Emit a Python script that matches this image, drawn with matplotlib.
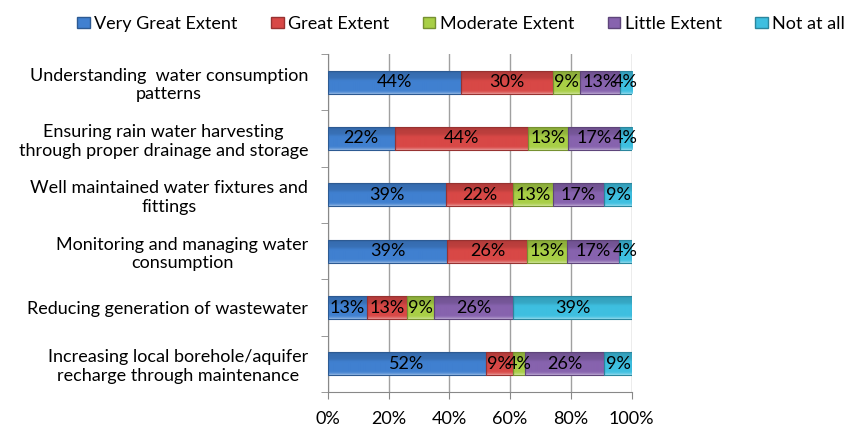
import numpy as np
import matplotlib.pyplot as plt
import matplotlib.colors as mcolors

# survey items, top to bottom
items = ['Understanding  water consumption\npatterns',
         'Ensuring rain water harvesting\nthrough proper drainage and storage',
         'Well maintained water fixtures and\nfittings',
         'Monitoring and managing water\nconsumption',
         'Reducing generation of wastewater',
         'Increasing local borehole/aquifer\nrecharge through maintenance']

levels = ['Very Great Extent', 'Great Extent', 'Moderate Extent', 'Little Extent', 'Not at all']

# percent of respondents per item
very_great = [44, 22, 39, 39, 13, 52]
great = [30, 44, 22, 26, 13, 9]
moderate = [9, 13, 13, 13, 9, 4]
little = [13, 17, 17, 17, 26, 26]
not_at_all = [4, 4, 9, 4, 39, 9]

xticks = [0, 20, 40, 60, 80, 100]
xtick_labels = ['0%', '20%', '40%', '60%', '80%', '100%']

colors = ['#4080d0', '#d84846', '#a8cf46', '#8763ae', '#3ebfe0']

plt.rcParams['font.family'] = ['Lato', 'DejaVu Sans']
FS = 13

fig = plt.figure(figsize=(8.46, 4.29), dpi=100)
ax = fig.add_axes([0.3874, 0.0862, 0.3593, 0.788])


def shade(c, f):
    # f > 0 lightens toward white, f < 0 darkens toward black
    r = np.array(mcolors.to_rgb(c))
    if f >= 0:
        return r + (1 - r) * f
    return r * (1 + f)


def gradient_fill(patch, c):
    # glossy fill: light top rim, flat body, darker lower part
    x0, y0 = patch.get_x(), patch.get_y()
    w, h = patch.get_width(), patch.get_height()
    stops = np.linspace(0, 1, 48)
    prof = np.interp(stops, [0, 0.06, 0.14, 0.55, 0.68, 0.9, 1.0],
                     [0.45, 0.15, 0.0, 0.0, -0.12, -0.16, -0.3])
    img = np.array([shade(c, f) for f in prof])[:, None, :]
    im = ax.imshow(img, extent=(x0, x0 + w, y0 + h, y0), aspect='auto',
                   origin='upper', zorder=2, interpolation='bilinear')
    im.set_clip_path(patch)


data = np.array([very_great, great, moderate, little, not_at_all], dtype=float)
# 100% stacked: each row scaled to its own total
shares = data / data.sum(axis=0) * 100
y = np.arange(len(items))[::-1]

left = np.zeros(len(items))
for k in range(len(levels)):
    bars = ax.barh(y, shares[k], left=left, height=0.41, color=colors[k],
                   edgecolor=shade(colors[k], -0.3), linewidth=0.8,
                   label=levels[k], zorder=3)
    for b in bars:
        b.set_facecolor('none')
        gradient_fill(b, colors[k])
    for yi, l, s, v in zip(y, left, shares[k], data[k]):
        ax.text(l + s / 2, yi, '%d%%' % v, ha='center', va='center',
                fontsize=FS, color='black', zorder=4)
    left += shares[k]

ax.set_xlim(0, 100)
ax.set_ylim(-0.5, len(items) - 0.5)
ax.set_xticks(xticks)
ax.set_xticklabels(xtick_labels, fontsize=FS)
ax.set_yticks(y)
ax.set_yticklabels(items, fontsize=FS, multialignment='center')
ax.set_yticks(np.arange(len(items) + 1) - 0.5, minor=True)
ax.tick_params(axis='y', which='major', length=0, pad=14)
ax.tick_params(axis='y', which='minor', length=5, color='#888888')
ax.tick_params(axis='x', length=5, color='#888888', pad=9)
ax.grid(axis='x', color='#a0a0a0', linewidth=1, zorder=0)
ax.set_axisbelow(True)
for side in ['top', 'right']:
    ax.spines[side].set_visible(False)
for side in ['left', 'bottom']:
    ax.spines[side].set_color('#888888')

handles = [plt.Rectangle((0, 0), 1, 1, facecolor=c, edgecolor=shade(c, -0.3)) for c in colors]
fig.legend(handles, levels, loc='upper center', bbox_to_anchor=(0.545, 1.0), ncol=5,
           frameon=False, fontsize=FS, handlelength=0.7, handleheight=0.55,
           handletextpad=0.25, columnspacing=1.85)

fig.savefig('out.png', dpi=100)
